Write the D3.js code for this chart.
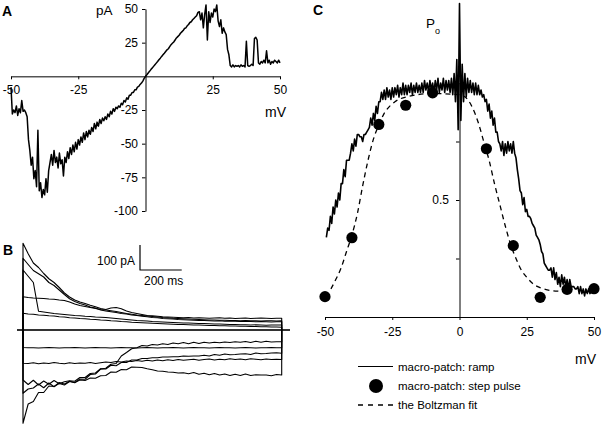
<!DOCTYPE html>
<html>
<head>
<meta charset="utf-8">
<title>Ramp and step currents</title>
<script src="https://cdnjs.cloudflare.com/ajax/libs/d3/7.8.5/d3.min.js"></script>
<style>
  body { margin: 0; background: #fff; }
  svg { font-family: "Liberation Sans", Arial, Helvetica, sans-serif; }
  .axis path, .axis line { stroke: #000; }
  .axis text { font-size: 12px; fill: #000; font-family: "Liberation Sans", Arial, sans-serif; }
  .trace { fill: none; stroke: #000; stroke-linejoin: round; }
</style>
</head>
<body>
<svg id="fig" width="602" height="427"></svg>
<script>
// ---- panel A: ramp current (pA), sampled every 0.5 mV from -50 mV
var rampStartA = -50, rampStepA = 0.5;
var rampCurrentA = [
  -8, -28, -25, -27, -22, -29, -24, -27, -18, -26,
  -25, -27, -30, -47, -55, -66, -60, -76, -70, -82,
  -40, -85, -79, -90, -84, -88, -76, -86, -70, -64,
  -58, -66, -55, -64, -60, -68, -57, -65, -62, -74,
  -60, -64, -56, -61, -53, -58, -51, -56, -49, -54,
  -47, -51, -45, -49, -42, -47, -41, -45, -40, -43,
  -38, -41, -35, -39, -34, -37, -32, -35, -31, -33,
  -30, -32, -28, -30, -26, -28, -24, -26, -23, -24,
  -22, -23, -20, -21, -18, -19, -16, -17, -14, -14,
  -12, -12, -10, -10, -8, -7.5, -6, -5, -3.5, -1.5,
  0, 1.2, 2.5, 3.7, 5, 6.2, 7.4, 8.6, 9.8, 11,
  12.3, 13.5, 14.8, 16, 17.2, 18.5, 19.7, 20.5, 22, 23.5,
  24.5, 25.5, 27, 28.5, 29.5, 30.5, 32, 33, 34, 35.5,
  36, 37.5, 38.5, 40, 40.5, 42, 43, 44, 45, 47.5,
  48, 42, 47, 36, 46, 53, 27, 48, 40, 47,
  44, 50, 48, 53, 41, 37, 42, 32, 36, 33,
  31, 20, 16, 8, 7, 8.5, 7, 8, 7.5, 8,
  7, 8.5, 7.5, 8, 7, 26, 8, 7.5, 8, 9,
  8, 28, 29, 27, 10, 9, 11, 10, 12, 10,
  19, 10, 12, 9, 11, 10, 12, 11, 10, 12,
  10
];
var ticksAx = [-50, -25, 25, 50];
var ticksAy = [50, 25, -25, -50, -75, -100];

// ---- panel B: step-pulse currents (pA), 51 samples over 1240 ms
var stepDuration = 1240;
var stepTraces = [
  [347,305,268,250,226,205,190,170,148,132,120,112,106,99,93,86,82,88,90,85,76,70,66,62,58,57,55,53,52,51,50,49,50,48,49,48,47,48,49,47,48,46,47,48,46,47,48,47,46,47,47],
  [287,262,238,225,212,190,178,160,142,125,114,106,100,92,88,80,76,73,70,66,64,60,58,55,53,50,49,46,45,44,42,41,40,39,38,38,37,36,37,35,36,35,34,35,34,33,34,33,32,33,33],
  [240,215,190,75,72,69,66,64,62,60,58,57,55,54,52,51,50,48,46,44,42,40,38,37,36,34,33,32,31,30,29,28,28,27,26,26,25,24,24,23,22,22,21,21,20,21,20,19,20,20,20],
  [133,130,128,127,126,124,123,120,118,112,104,98,94,90,86,82,80,77,74,70,66,63,60,58,56,54,52,50,49,47,46,45,44,43,42,41,40,40,39,39,38,38,37,38,37,37,36,37,37,36,37],
  [67,64,63,60,59,57,56,53,52,49,48,46,45,43,42,40,39,37,36,34,33,31,30,29,28,27,26,25,24,23,22,22,21,20,20,19,18,18,17,17,16,16,15,15,14,14,13,13,12,12,11],
  [-70,-71,-71,-72,-71,-70,-71,-72,-71,-71,-70,-71,-72,-71,-70,-71,-71,-72,-71,-70,-71,-71,-72,-71,-70,-71,-72,-71,-71,-70,-71,-72,-71,-70,-71,-71,-72,-71,-70,-71,-71,-72,-71,-70,-71,-72,-71,-71,-70,-71,-71],
  [-133,-134,-131,-135,-132,-134,-130,-133,-135,-131,-134,-132,-133,-130,-134,-131,-128,-130,-126,-128,-124,-126,-122,-125,-121,-124,-120,-123,-119,-122,-118,-121,-119,-117,-121,-118,-116,-120,-117,-119,-115,-118,-116,-119,-115,-117,-119,-116,-118,-117,-118],
  [-200,-218,-201,-220,-204,-217,-202,-215,-207,-203,-205,-190,-190,-174,-172,-155,-156,-141,-143,-130,-130,-120,-120,-114,-114,-111,-111,-108,-108,-107,-107,-104,-105,-104,-104,-101,-104,-98,-101,-96,-99,-98,-96,-95,-98,-92,-95,-94,-92,-91,-93],
  [-253,-236,-232,-216,-231,-212,-227,-210,-216,-205,-210,-200,-202,-192,-193,-183,-182,-168,-169,-158,-159,-148,-149,-150,-155,-159,-164,-165,-168,-169,-172,-171,-175,-170,-177,-173,-179,-174,-180,-176,-182,-177,-182,-176,-182,-179,-180,-180,-183,-178,-180],
  [-373,-296,-286,-250,-250,-224,-226,-214,-220,-206,-211,-196,-197,-178,-176,-156,-153,-137,-134,-104,-90,-75,-71,-62,-64,-58,-60,-55,-58,-52,-55,-50,-55,-49,-54,-49,-52,-49,-51,-48,-50,-47,-49,-46,-50,-45,-49,-45,-48,-47,-47]
];
var barTime = 200, barCurrent = 100;

// ---- panel C: open probability
var rampStartC = -49.5, rampStepC = 0.5;
var rampPoC = [
  0.34, 0.38, 0.37, 0.43, 0.40, 0.47, 0.44, 0.50, 0.47, 0.53,
  0.50, 0.57, 0.57, 0.63, 0.60, 0.67, 0.67, 0.67, 0.70, 0.74,
  0.71, 0.76, 0.73, 0.78, 0.78, 0.77, 0.77, 0.75, 0.78, 0.78,
  0.79, 0.80, 0.81, 0.85, 0.82, 0.87, 0.84, 0.90, 0.87, 0.92,
  0.92, 0.96, 0.93, 0.97, 0.93, 0.98, 0.94, 0.97, 0.93, 0.98,
  0.94, 0.98, 0.95, 0.99, 0.94, 0.98, 0.95, 1.00, 0.95, 0.99,
  0.95, 0.99, 0.96, 1.00, 0.95, 0.99, 0.96, 1.00, 0.96, 0.99,
  0.96, 1.00, 0.96, 1.01, 0.97, 1.00, 0.96, 1.01, 0.97, 1.00,
  0.96, 1.01, 0.97, 1.02, 0.96, 1.00, 0.97, 1.02, 0.96, 1.01,
  0.97, 1.01, 0.96, 1.02, 0.95, 1.04, 0.92, 1.10, 0.80, 1.34,
  0.84, 1.08, 0.92, 1.04, 0.94, 1.02, 0.96, 1.01, 0.96, 1.00,
  0.95, 1.00, 0.95, 0.99, 0.95, 0.97, 0.94, 0.95, 0.92, 0.93,
  0.88, 0.91, 0.85, 0.88, 0.82, 0.85, 0.79, 0.79, 0.75, 0.74,
  0.71, 0.75, 0.69, 0.74, 0.70, 0.75, 0.71, 0.74, 0.70, 0.75,
  0.70, 0.68, 0.63, 0.59, 0.54, 0.53, 0.48, 0.51, 0.45, 0.46,
  0.43, 0.43, 0.42, 0.40, 0.39, 0.38, 0.35, 0.34, 0.33, 0.31,
  0.28, 0.27, 0.23, 0.22, 0.21, 0.20, 0.20, 0.21, 0.17, 0.21,
  0.16, 0.19, 0.14, 0.17, 0.13, 0.18, 0.14, 0.17, 0.13, 0.16,
  0.12, 0.16, 0.13, 0.13, 0.13, 0.12, 0.12, 0.13, 0.10, 0.13,
  0.10, 0.12, 0.09, 0.12, 0.10, 0.12, 0.10, 0.11
];
var stepVolt = [-50, -40, -30, -20, -10, 10, 20, 30, 40, 50];
var stepPo   = [0.087, 0.339, 0.823, 0.905, 0.958, 0.719, 0.305, 0.084, 0.118, 0.121];
var fitVolt = [-47.8,-46,-44,-42,-40,-38,-36,-34,-32,-30,-28,-26,-24,-20,-10,0,3,5,7,9,11,13,15,17,19,21,23,25,27,30,33,37];
var fitPo   = [0.12,0.16,0.21,0.28,0.35,0.44,0.56,0.67,0.76,0.82,0.87,0.90,0.92,0.94,0.955,0.95,0.93,0.89,0.83,0.75,0.67,0.57,0.48,0.39,0.31,0.25,0.20,0.17,0.145,0.125,0.115,0.11];
var ticksCx = [-50, -25, 0, 25, 50];
var ticksCy = [0.25, 0.5, 0.75, 1];
var legendLabels = ["macro-patch: ramp", "macro-patch: step pulse", "the Boltzman fit"];

var svg = d3.select("#fig");
var fmt = function(d) { return String(d); };

function label(x, y, txt, size, weight, anchor) {
  return svg.append("text").attr("x", x).attr("y", y)
    .attr("font-size", size).attr("font-weight", weight || "normal")
    .attr("text-anchor", anchor || "start").text(txt);
}

// ===== A =====
var xA = d3.scaleLinear().domain([-50, 50]).range([11, 280]);
var yA = d3.scaleLinear().domain([-100, 50]).range([211, 9]);

svg.append("g").attr("class", "axis")
  .attr("transform", "translate(0," + yA(0) + ")")
  .call(d3.axisBottom(xA).tickValues(ticksAx).tickFormat(fmt).tickSize(3).tickSizeOuter(0).tickPadding(6));
svg.append("g").attr("class", "axis")
  .attr("transform", "translate(" + xA(0) + ",0)")
  .call(d3.axisLeft(yA).tickValues(ticksAy).tickFormat(fmt).tickSize(3.5).tickSizeOuter(0).tickPadding(4));

svg.append("path").datum(rampCurrentA).attr("class", "trace")
  .attr("stroke-width", 1.5)
  .attr("d", d3.line()
    .x(function(d, i) { return xA(rampStartA + i * rampStepA); })
    .y(function(d) { return yA(d); }));

label(2, 16, "A", 14, "bold");
label(96, 15, "pA", 13.5);
label(265, 117, "mV", 14);

// ===== B =====
var xB = d3.scaleLinear().domain([0, stepDuration]).range([23, 281.7]);
var yB = d3.scaleLinear().domain([-400, 400]).range([430, 230]);

svg.append("line").attr("x1", 17).attr("x2", 290)
  .attr("y1", yB(0)).attr("y2", yB(0))
  .attr("stroke", "#333").attr("stroke-width", 1.8);

var lineB = d3.line()
  .x(function(d) { return xB(d[0]); })
  .y(function(d) { return yB(d[1]); });

stepTraces.forEach(function(tr) {
  var dt = stepDuration / (tr.length - 1);
  var pts = [[0, 0]];
  tr.forEach(function(v, i) { pts.push([i * dt, v]); });
  pts.push([stepDuration, 0]);
  svg.append("path").datum(pts).attr("class", "trace")
    .attr("stroke-width", 1.1).attr("d", lineB);
});

// scale bar
var bx = 140, by = 270;
svg.append("path").attr("class", "trace").attr("stroke-width", 1.2)
  .attr("d", "M" + bx + "," + (by - (yB(0) - yB(barCurrent))) +
             "V" + by + "H" + (bx + xB(barTime) - xB(0)));
label(135, 265, "100 pA", 12, "normal", "end");
label(144, 285, "200 ms", 12);
label(3, 255, "B", 14, "bold");

// ===== C =====
var xC = d3.scaleLinear().domain([-50, 50]).range([325, 594]);
var yC = d3.scaleLinear().domain([0, 1]).range([317, 83]);

svg.append("g").attr("class", "axis")
  .attr("transform", "translate(0," + yC(0) + ")")
  .call(d3.axisBottom(xC).tickValues(ticksCx).tickFormat(fmt).tickSize(3).tickSizeOuter(0).tickPadding(7));
svg.append("g").attr("class", "axis")
  .attr("transform", "translate(" + xC(0) + ",0)")
  .call(d3.axisLeft(yC).tickValues(ticksCy)
    .tickFormat(function(d) { return d === 0.5 ? "0.5" : ""; })
    .tickSize(3.5).tickSizeOuter(0).tickPadding(7));

svg.append("path").datum(rampPoC).attr("class", "trace")
  .attr("stroke-width", 1.6)
  .attr("d", d3.line()
    .x(function(d, i) { return xC(rampStartC + i * rampStepC); })
    .y(function(d) { return yC(d); }));

svg.append("path").datum(d3.zip(fitVolt, fitPo)).attr("class", "trace")
  .attr("stroke-width", 1.3).attr("stroke-dasharray", "5,4")
  .attr("d", d3.line()
    .x(function(d) { return xC(d[0]); })
    .y(function(d) { return yC(d[1]); })
    .curve(d3.curveMonotoneX));

svg.selectAll("circle.step").data(d3.zip(stepVolt, stepPo)).enter()
  .append("circle").attr("class", "step")
  .attr("cx", function(d) { return xC(d[0]); })
  .attr("cy", function(d) { return yC(d[1]); })
  .attr("r", 5.6).attr("fill", "#000");

label(313, 15, "C", 14, "bold");
label(426, 28, "P", 13.5);
label(435, 33.5, "o", 9);
label(575, 364, "mV", 14);

// legend
var lgX = 358, lgY = [366.5, 386, 405];
svg.append("line").attr("x1", lgX).attr("x2", lgX + 35)
  .attr("y1", lgY[0]).attr("y2", lgY[0]).attr("stroke", "#000").attr("stroke-width", 1.2);
svg.append("circle").attr("cx", lgX + 18).attr("cy", lgY[1]).attr("r", 7).attr("fill", "#000");
svg.append("line").attr("x1", lgX).attr("x2", lgX + 37)
  .attr("y1", lgY[2]).attr("y2", lgY[2]).attr("stroke", "#000")
  .attr("stroke-width", 1.3).attr("stroke-dasharray", "5,5");
legendLabels.forEach(function(t, i) {
  label(398, lgY[i] + 4, t, 11.5);
});
</script>
</body>
</html>
